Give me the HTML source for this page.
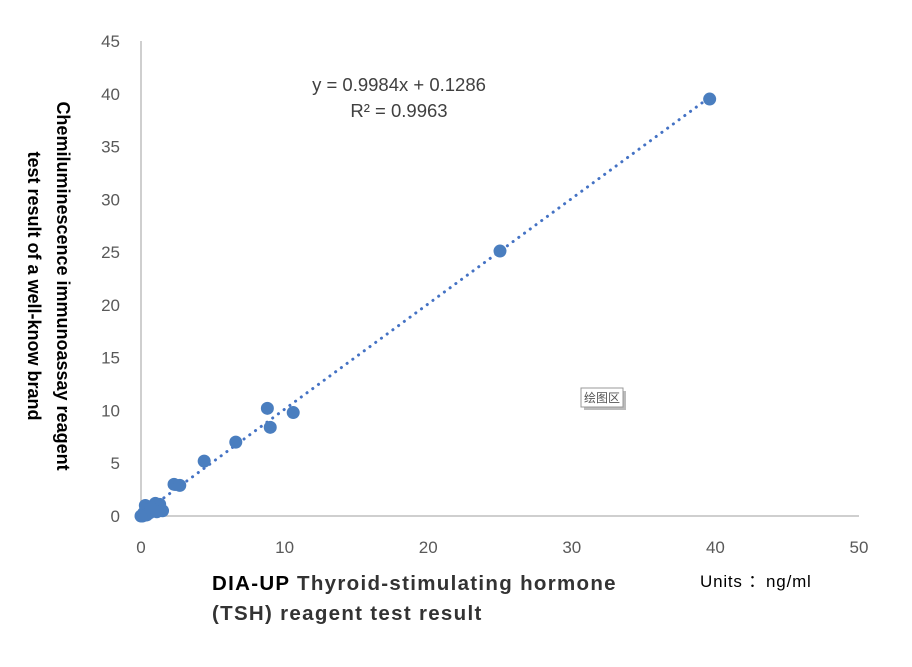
<!DOCTYPE html>
<html><head><meta charset="utf-8"><style>
body{margin:0;background:#fff;}
svg text{font-family:"Liberation Sans","Noto Sans CJK SC",sans-serif;}
</style></head><body>
<svg id="chart" width="912" height="662" xmlns="http://www.w3.org/2000/svg">
<g id="axes"></g>
<g id="marks"></g>
<text x="399" y="91" font-size="18.5" fill="#404040" text-anchor="middle">y = 0.9984x + 0.1286</text>
<text x="399" y="117" font-size="18.5" fill="#404040" text-anchor="middle">R² = 0.9963</text>
<g>
<rect x="584" y="391" width="42" height="19" fill="#bbb"/>
<rect x="581" y="388" width="42" height="19" fill="#fff" stroke="#999"/>
<text x="602" y="402" font-size="12" fill="#555" text-anchor="middle">绘图区</text>
</g>
<text transform="translate(57,286) rotate(90)" font-size="18" font-weight="bold" fill="#000" text-anchor="middle">Chemiluminescence immunoassay reagent</text>
<text transform="translate(28,286) rotate(90)" font-size="18" font-weight="bold" fill="#000" text-anchor="middle">test result of a well-know brand</text>
<text x="212" y="590" font-size="20.5" letter-spacing="1.3" fill="#000"><tspan font-weight="bold">DIA-UP</tspan><tspan font-weight="bold" fill="#333"> Thyroid-stimulating hormone</tspan></text>
<text x="212" y="620" font-size="20.5" letter-spacing="1.3" font-weight="bold" fill="#333">(TSH) reagent test result</text>
<text x="700" y="587" font-size="17" letter-spacing="0.8" fill="#000">Units ：ng/ml</text>
</svg>
<script>
const xTicks=[0,10,20,30,40,50];
const yTicks=[0,5,10,15,20,25,30,35,40,45];
const xVals=[39.6,25,10.6,8.8,9.0,6.6,4.4,2.3,2.7,1.5,1.0,1.3,0.8,0.5,0.3,0.2,0.1,0.4,0.6,0.0,0.7,1.1];
const yVals=[39.5,25.1,9.8,10.2,8.4,7.0,5.2,3.0,2.9,0.5,1.2,1.1,0.8,0.6,1.0,0.3,0.0,0.1,0.3,0.0,0.7,0.4];
const slope=0.9984, intercept=0.1286;
const X0=141,X1=859,Y0=516,Y1=41;
const sx=v=>X0+(v-0)/(50-0)*(X1-X0);
const sy=v=>Y0-(v-0)/(45-0)*(Y0-Y1);
const NS="http://www.w3.org/2000/svg";
const axes=document.getElementById('axes'), marks=document.getElementById('marks');
function mk(t,a,p){const e=document.createElementNS(NS,t);for(const k in a)e.setAttribute(k,a[k]);p.appendChild(e);return e;}
let l=mk('line',{x1:X0,y1:Y0,x2:X1,y2:Y0,stroke:'#bfbfbf','stroke-width':1.5},axes);


l=mk('line',{x1:X0,y1:Y0,x2:X0,y2:Y1,stroke:'#bfbfbf','stroke-width':1.5},axes);


xTicks.forEach(v=>{const t=mk('text',{x:sx(v),y:553,'font-size':17,fill:'#595959','text-anchor':'middle'},axes);t.textContent=v;

});
yTicks.forEach(v=>{const t=mk('text',{x:120,y:sy(v)+6,'font-size':17,fill:'#595959','text-anchor':'end'},axes);t.textContent=v;

});
const xmax=Math.max(...xVals);
const tl=mk('line',{x1:sx(0),y1:sy(intercept),x2:sx(xmax),y2:sy(slope*xmax+intercept),stroke:'#4472c4','stroke-width':3,'stroke-dasharray':'0.1 7','stroke-linecap':'round'},marks);


xVals.forEach((x,i)=>{const c=mk('circle',{cx:sx(x),cy:sy(yVals[i]),r:6.5,fill:'#4a7ebf'},marks);

});
</script>
</body></html>
